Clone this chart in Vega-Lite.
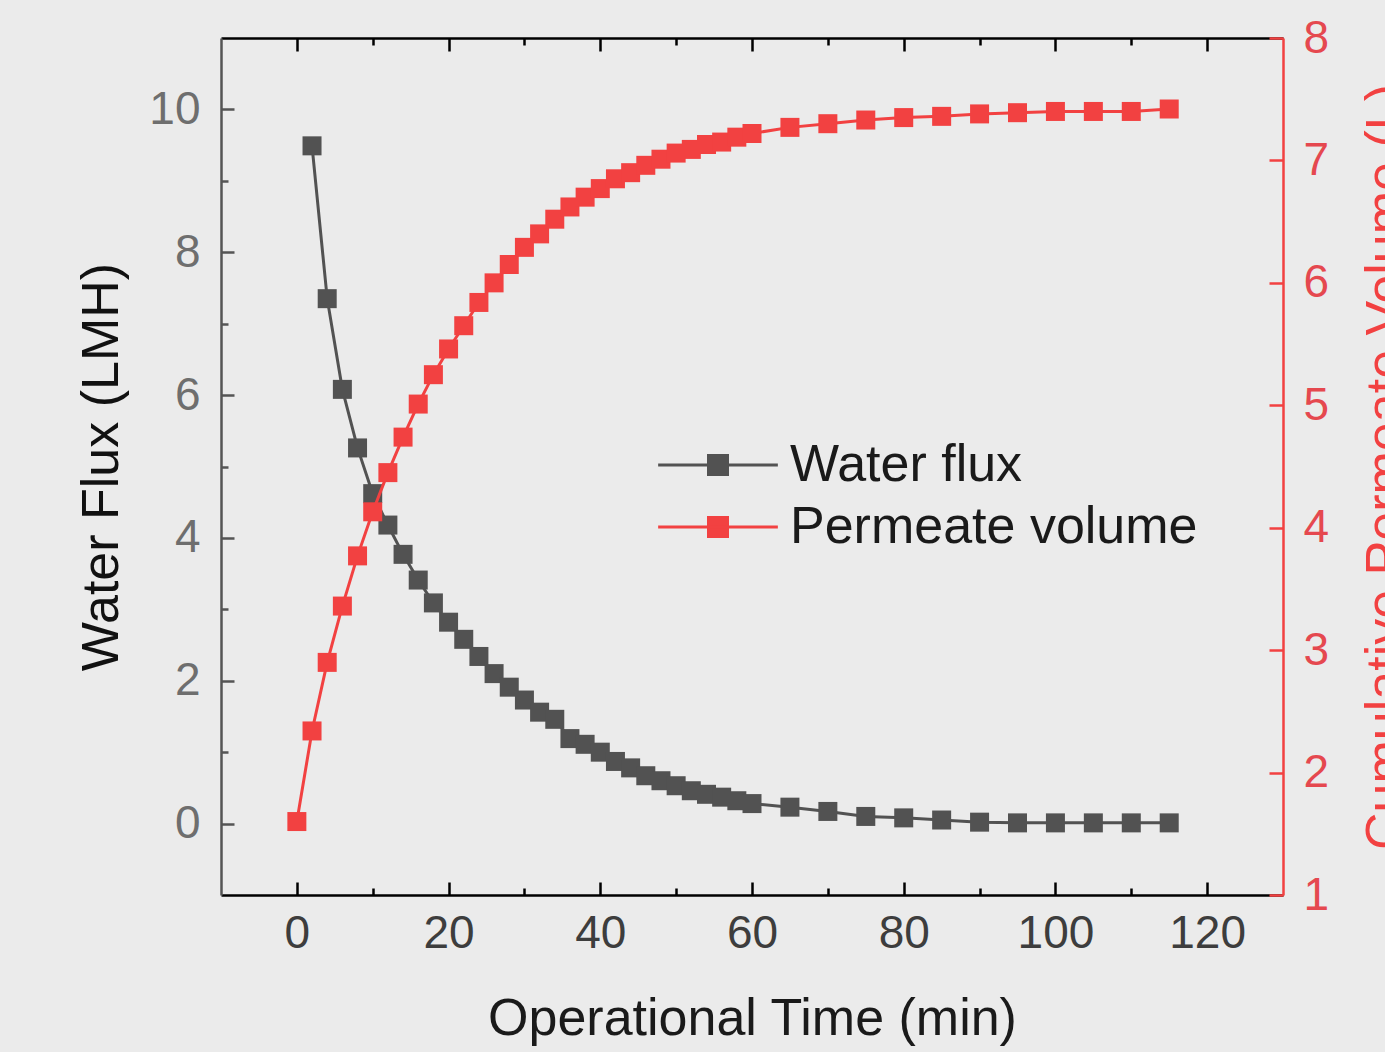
{
  "$schema": "https://vega.github.io/schema/vega-lite/v6.json",
  "width": 1062,
  "height": 857,
  "autosize": {"type": "none"},
  "padding": {"left": 221, "top": 38, "right": 102, "bottom": 157},
  "background": "#ebebeb",
  "config": {
    "view": {"stroke": null},
    "font": "Liberation Sans",
    "axis": {"grid": false, "labelFlush": false, "labelOverlap": false, "labelBound": false, "titleFontWeight": "normal", "domainWidth": 2.5, "tickWidth": 2.5}
  },
  "datasets": {
    "flux": [
      {"t": 2, "v": 9.49}, {"t": 4, "v": 7.35}, {"t": 6, "v": 6.08}, {"t": 8, "v": 5.26},
      {"t": 10, "v": 4.62}, {"t": 12, "v": 4.18}, {"t": 14, "v": 3.77}, {"t": 16, "v": 3.41},
      {"t": 18, "v": 3.09}, {"t": 20, "v": 2.82}, {"t": 22, "v": 2.58}, {"t": 24, "v": 2.34},
      {"t": 26, "v": 2.10}, {"t": 28, "v": 1.91}, {"t": 30, "v": 1.73}, {"t": 32, "v": 1.56},
      {"t": 34, "v": 1.46}, {"t": 36, "v": 1.19}, {"t": 38, "v": 1.11}, {"t": 40, "v": 1.00},
      {"t": 42, "v": 0.87}, {"t": 44, "v": 0.78}, {"t": 46, "v": 0.67}, {"t": 48, "v": 0.60},
      {"t": 50, "v": 0.53}, {"t": 52, "v": 0.46}, {"t": 54, "v": 0.41}, {"t": 56, "v": 0.37},
      {"t": 58, "v": 0.32}, {"t": 60, "v": 0.28}, {"t": 65, "v": 0.23}, {"t": 70, "v": 0.17},
      {"t": 75, "v": 0.10}, {"t": 80, "v": 0.08}, {"t": 85, "v": 0.05}, {"t": 90, "v": 0.02},
      {"t": 95, "v": 0.01}, {"t": 100, "v": 0.01}, {"t": 105, "v": 0.01}, {"t": 110, "v": 0.01},
      {"t": 115, "v": 0.01}
    ],
    "perm": [
      {"t": 0, "v": 1.60}, {"t": 2, "v": 2.34}, {"t": 4, "v": 2.90}, {"t": 6, "v": 3.36},
      {"t": 8, "v": 3.77}, {"t": 10, "v": 4.13}, {"t": 12, "v": 4.45}, {"t": 14, "v": 4.74},
      {"t": 16, "v": 5.01}, {"t": 18, "v": 5.25}, {"t": 20, "v": 5.46}, {"t": 22, "v": 5.65},
      {"t": 24, "v": 5.84}, {"t": 26, "v": 6.00}, {"t": 28, "v": 6.15}, {"t": 30, "v": 6.29},
      {"t": 32, "v": 6.40}, {"t": 34, "v": 6.52}, {"t": 36, "v": 6.62}, {"t": 38, "v": 6.70},
      {"t": 40, "v": 6.77}, {"t": 42, "v": 6.85}, {"t": 44, "v": 6.90}, {"t": 46, "v": 6.96},
      {"t": 48, "v": 7.01}, {"t": 50, "v": 7.06}, {"t": 52, "v": 7.09}, {"t": 54, "v": 7.13},
      {"t": 56, "v": 7.15}, {"t": 58, "v": 7.19}, {"t": 60, "v": 7.22}, {"t": 65, "v": 7.27},
      {"t": 70, "v": 7.30}, {"t": 75, "v": 7.33}, {"t": 80, "v": 7.35}, {"t": 85, "v": 7.36},
      {"t": 90, "v": 7.38}, {"t": 95, "v": 7.39}, {"t": 100, "v": 7.40}, {"t": 105, "v": 7.40},
      {"t": 110, "v": 7.40}, {"t": 115, "v": 7.42}
    ]
  },
  "layer": [
    {
      "data": {"name": "flux"},
      "mark": {"type": "line", "strokeWidth": 3, "point": {"shape": "square", "size": 361, "filled": true, "opacity": 1}},
      "encoding": {
        "x": {
          "field": "t", "type": "quantitative",
          "scale": {"domain": [-10, 130], "nice": false, "zero": false},
          "axis": {
            "orient": "bottom",
            "values": [0, 10, 20, 30, 40, 50, 60, 70, 80, 90, 100, 110, 120],
            "labelExpr": "datum.value % 20 === 0 ? datum.label : ''",
            "tickSize": {"condition": {"test": "datum.value % 20 === 0", "value": -13}, "value": -7},
            "tickColor": "#000000", "domainColor": "#000000",
            "labelFontSize": 46, "labelColor": "#3d3d3d", "labelPadding": 29,
            "title": "Operational Time (min)", "titleFontSize": 52, "titleColor": "#1a1a1a", "titlePadding": 31
          }
        },
        "y": {
          "field": "v", "type": "quantitative",
          "scale": {"domain": [-1, 11], "nice": false, "zero": false},
          "axis": {
            "orient": "left",
            "values": [0, 1, 2, 3, 4, 5, 6, 7, 8, 9, 10],
            "labelExpr": "datum.value % 2 === 0 ? datum.label : ''",
            "tickSize": {"condition": {"test": "datum.value % 2 === 0", "value": -13}, "value": -7},
            "tickColor": "#555555", "domainColor": "#555555",
            "labelFontSize": 46, "labelColor": "#6e6e6e", "labelPadding": 34,
            "title": "Water Flux (LMH)", "titleFontSize": 52, "titleColor": "#111111", "titlePadding": 20
          }
        },
        "color": {
          "datum": "Water flux", "type": "nominal",
          "scale": {"domain": ["Water flux", "Permeate volume"], "range": ["#525252", "#f24141"]},
          "legend": {
            "title": null, "orient": "none", "legendX": 471, "legendY": 401,
            "symbolType": "M-6.3,0H6.3M-1,-1H1V1H-1Z",
            "symbolSize": 361, "symbolStrokeWidth": 3,
            "labelFontSize": 52, "labelColor": "#1a1a1a", "labelOffset": 46, "labelLimit": 0,
            "rowPadding": 10,
            "encode": {"symbols": {"update": {"fill": {"scale": "color", "field": "value"}, "stroke": {"scale": "color", "field": "value"}, "opacity": {"value": 1}}}}
          }
        }
      }
    },
    {
      "data": {"name": "perm"},
      "mark": {"type": "line", "strokeWidth": 3, "point": {"shape": "square", "size": 361, "filled": true, "opacity": 1}},
      "encoding": {
        "x": {
          "field": "t", "type": "quantitative",
          "axis": {
            "orient": "top",
            "values": [0, 10, 20, 30, 40, 50, 60, 70, 80, 90, 100, 110, 120],
            "labels": false,
            "tickSize": {"condition": {"test": "datum.value % 20 === 0", "value": -13}, "value": -7},
            "tickColor": "#000000", "domainColor": "#000000",
            "title": null
          }
        },
        "y": {
          "field": "v", "type": "quantitative",
          "scale": {"domain": [1, 8], "nice": false, "zero": false},
          "axis": {
            "orient": "right",
            "values": [1, 1.5, 2, 2.5, 3, 3.5, 4, 4.5, 5, 5.5, 6, 6.5, 7, 7.5, 8],
            "format": "d",
            "labelExpr": "datum.value % 1 === 0 ? datum.label : ''",
            "tickSize": {"condition": {"test": "datum.value % 1 === 0", "value": -14}, "value": -8},
            "tickColor": "#f24141", "domainColor": "#f24141",
            "labelFontSize": 46, "labelColor": "#e5484f", "labelPadding": 34,
            "title": "Cumulative Permeate Volume (L)", "titleFontSize": 52, "titleColor": "#f24141",
            "titleAngle": 270, "titlePadding": 84
          }
        },
        "color": {"datum": "Permeate volume", "type": "nominal"}
      }
    }
  ],
  "resolve": {"scale": {"y": "independent"}, "axis": {"x": "independent"}}
}
